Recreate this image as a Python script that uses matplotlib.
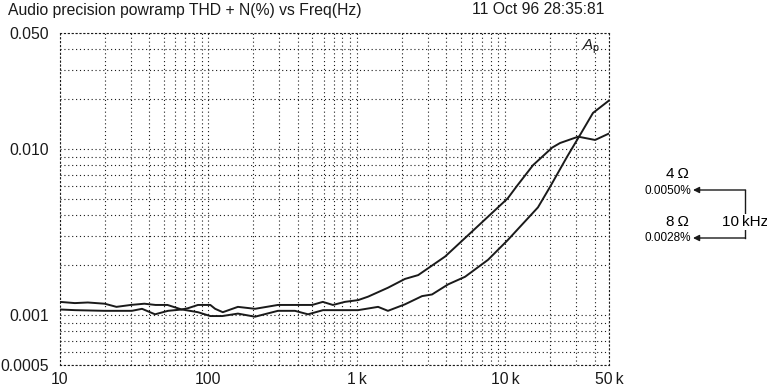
import matplotlib
matplotlib.use('Agg')
import matplotlib.pyplot as plt
from matplotlib.lines import Line2D
from matplotlib.ticker import LogLocator, NullFormatter

plt.rcParams['font.family'] = ['Liberation Sans', 'DejaVu Sans']
plt.rcParams['mathtext.fontset'] = 'custom'
plt.rcParams['mathtext.rm'] = 'Liberation Sans'
plt.rcParams['mathtext.it'] = 'Liberation Sans:italic'

# THD+N (%), 4 ohm load
freq_4ohm = [10, 12.6, 15.4, 20, 24, 30, 37, 44, 53, 66, 73, 85, 103, 111, 125,
             158, 206, 294, 500, 590, 690, 830, 1020, 1190, 1620, 2110, 2590,
             3930, 5360, 7650, 10400, 12000, 15400, 20700, 23400, 31000, 40300, 50000]
thd_4ohm = [0.00120, 0.00118, 0.00119, 0.00117, 0.00112, 0.00115, 0.00117, 0.00115,
            0.00115, 0.00108, 0.00110, 0.00115, 0.00115, 0.00109, 0.00104, 0.00112,
            0.00109, 0.00115, 0.00115, 0.00120, 0.00115, 0.00120, 0.00123, 0.00129,
            0.00146, 0.00165, 0.00174, 0.00225, 0.00291, 0.00391, 0.00505, 0.0060,
            0.0080, 0.0102, 0.01087, 0.01187, 0.01134, 0.0124]

# 8 ohm load
freq_8ohm = [10, 12.6, 20, 30.5, 35.7, 43.7, 53.4, 66.4, 85, 103, 124, 158, 206,
             294, 383, 469, 592, 1020, 1390, 1620, 2110, 2750, 3210, 4120, 5360,
             7650, 10400, 16600, 20000, 26100, 31900, 39000, 50000]
thd_8ohm = [0.00108, 0.00107, 0.00106, 0.00106, 0.00109, 0.00101, 0.00106, 0.00108,
            0.00104, 0.000986, 0.000986, 0.00102, 0.000977, 0.00106, 0.00106, 0.00101,
            0.00107, 0.00107, 0.00112, 0.00106, 0.00116, 0.00130, 0.00133, 0.00153,
            0.00170, 0.00215, 0.00283, 0.00445, 0.00590, 0.00899, 0.01215, 0.0165, 0.0196]

x_ticks = [10, 100, 1000, 10000, 50000]
x_labels = ['10', '100', '1\u2009k', '10\u2009k', '50\u2009k']
y_ticks = [0.0005, 0.001, 0.01, 0.05]
y_labels = ['0.0005', '0.001', '0.010', '0.050']

W, H = 767, 392
fig = plt.figure(figsize=(W / 100, H / 100), dpi=100)
ax = fig.add_axes([60 / W, 27 / H, 549 / W, 332 / H])

dots = (0, (1, 2.5))
ink = '#1a1a1a'
ax.plot(freq_4ohm, thd_4ohm, color=ink, lw=1.4, zorder=3)
ax.plot(freq_8ohm, thd_8ohm, color=ink, lw=1.4, zorder=3)

ax.set_xscale('log')
ax.set_yscale('log')
ax.set_xlim(10, 50000)
ax.set_ylim(0.0005, 0.05)

ax.set_xticks(x_ticks)
ax.set_xticklabels(x_labels)
ax.set_yticks(y_ticks)
ax.set_yticklabels(y_labels)
ax.xaxis.set_minor_locator(LogLocator(base=10, subs=range(2, 10), numticks=20))
ax.yaxis.set_minor_locator(LogLocator(base=10, subs=range(2, 10), numticks=20))
ax.xaxis.set_minor_formatter(NullFormatter())
ax.yaxis.set_minor_formatter(NullFormatter())
ax.tick_params(which='both', length=0, labelsize=11.3, colors=ink)
ax.tick_params(axis='x', pad=5)
ax.tick_params(axis='y', pad=8)

ax.grid(which='both', color=ink, linestyle=dots, linewidth=0.8)
for sp in ax.spines.values():
    sp.set_linestyle(dots)
    sp.set_linewidth(0.8)
    sp.set_color(ink)

fig.text(8 / W, 1 - 10 / H, 'Audio precision powramp THD + N(%) vs Freq(Hz)',
         ha='left', va='center', fontsize=11.3, color=ink)
fig.text(604 / W, 1 - 10 / H, '11 Oct 96 28:35:81',
         ha='right', va='center', fontsize=11.3, color=ink)
fig.text(582 / W, 1 - 47 / H, r'$A_{\rm p}$', ha='left', va='center',
         fontsize=11, color=ink)

# 10 kHz callout on the right
fig.text(677 / W, 1 - 174 / H, '4\u2009\u03a9', ha='center', va='center', fontsize=11)
fig.text(691 / W, 1 - 191 / H, '0.0050%', ha='right', va='center', fontsize=8.5)
fig.text(677 / W, 1 - 222 / H, '8\u2009\u03a9', ha='center', va='center', fontsize=11)
fig.text(691 / W, 1 - 238 / H, '0.0028%', ha='right', va='center', fontsize=8.5)
fig.add_artist(Line2D([745 / W, 745 / W], [1 - 190 / H, 1 - 238 / H],
                      transform=fig.transFigure, color=ink, lw=1))
for yy in (190, 238):
    ax.annotate('', xy=(693, H - yy), xytext=(745.5, H - yy), xycoords='figure pixels',
                textcoords='figure pixels', annotation_clip=False,
                arrowprops=dict(arrowstyle='-|>', color=ink, lw=1,
                                mutation_scale=9, shrinkA=0, shrinkB=0))
fig.text(745 / W, 1 - 222 / H, '10\u2009kHz', ha='center', va='center', fontsize=11,
         bbox=dict(fc='white', ec='none', pad=1))

fig.savefig('out.png', dpi=100)
